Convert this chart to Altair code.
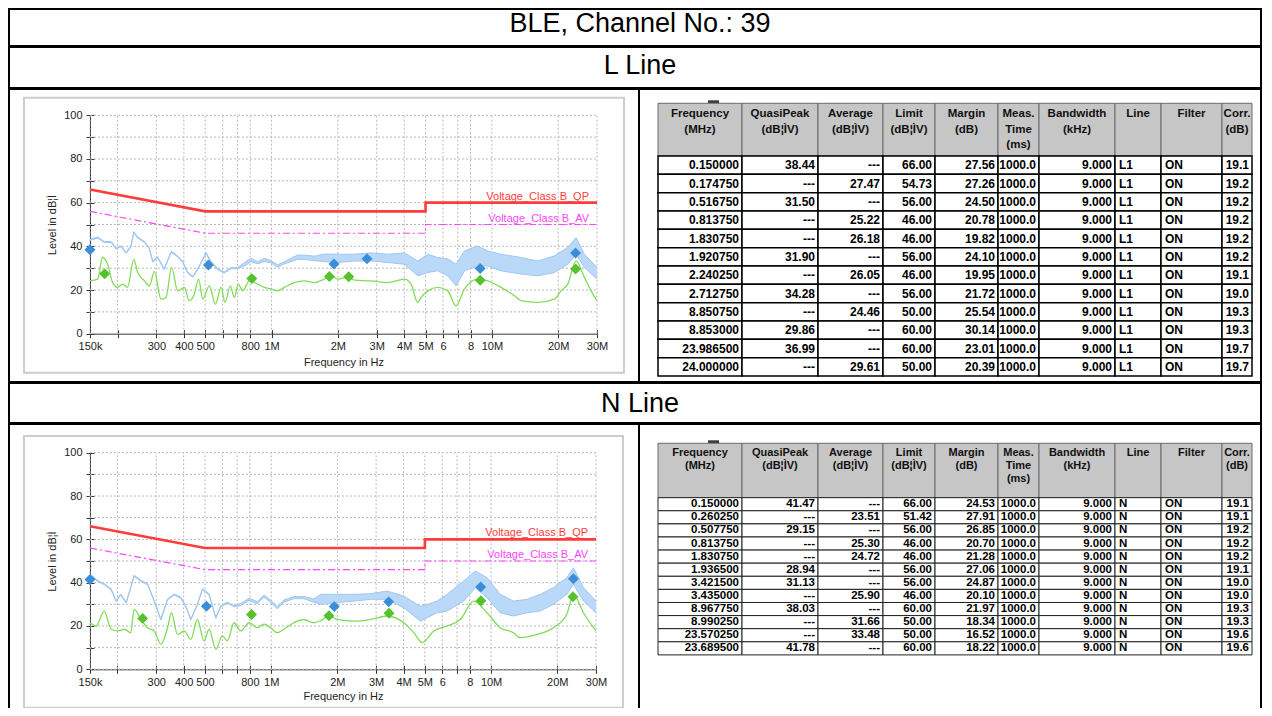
import json
import altair as alt
import pandas as pd

# ------------------------------------------------------------------ text
TITLE = "BLE, Channel No.: 39"
SECTIONS = ["L Line", "N Line"]

# ------------------------------------------------------------------ axes
x_tick_values = [0.15, 0.2, 0.3, 0.4, 0.5, 0.6, 0.7, 0.8, 1, 2, 3, 4, 5, 6, 7, 8, 10, 20, 30]
x_tick_labels = ["150k", "", "300", "400", "500", "", "", "800", "1M", "2M", "3M", "4M",
                 "5M", "6", "", "8", "10M", "20M", "30M"]
y_tick_values = [0, 10, 20, 30, 40, 50, 60, 70, 80, 90, 100]
y_tick_labels = ["0", "", "20", "", "40", "", "60", "", "80", "", "100"]
x_title = "Frequency in Hz"
y_title = "Level in dB¦Ì"

# ------------------------------------------------------------------ limits
limit_freq = [0.15, 0.5, 5.0, 5.0, 30.0]
limit_qp = [66, 56, 56, 60, 60]
limit_av = [56, 46, 46, 50, 50]
limit_names = ["Voltage_Class B_QP", "Voltage_Class B_AV"]
limit_label_freq = [27.6, 27.6]
limit_label_level = [60, 50]

# ------------------------------------------------------------------ L line traces (MHz, dB)
L_qp_freq = [0.150, 0.1625, 0.174, 0.187, 0.197, 0.207, 0.219, 0.230, 0.237, 0.247, 0.265, 0.279,
             0.289, 0.304, 0.326, 0.350, 0.369, 0.395, 0.416, 0.439, 0.462, 0.504, 0.531, 0.570,
             0.610, 0.654, 0.700, 0.753, 0.807, 0.865, 0.928, 0.994, 1.066, 1.143, 1.225, 1.314,
             1.410, 1.560, 1.740, 2.0, 2.38, 2.83, 3.37, 4.01, 4.61, 5.12, 5.68, 6.31, 6.88, 7.51,
             8.63, 9.58, 11.0, 13.57, 16.15, 19.2, 22.1, 24.1, 26.3, 30.0]
L_qp_lo = [42.75, 43.75, 41.75, 41.75, 38.75, 39.75, 36.75, 39.75, 46.25, 43.75, 41.75, 38.75,
           32.75, 34.75, 29.25, 37.25, 35.75, 32.75, 27.75, 25.75, 29.25, 36.75, 32.75, 29.25,
           27.75, 29.75, 29.75, 31.0, 33.0, 32.0, 33.0, 32.5, 30.5, 32.0, 33.0, 34.0,
           34.0, 33.5, 33.0, 32.6, 33.3, 33.3, 32.6, 31.8, 26.5, 28.0, 28.8, 26.5, 21.9, 28.8,
           31.0, 31.0, 28.8, 27.3, 26.5, 28.0, 31.8, 36.4, 30.3, 25.0]
L_qp_hi = [43.25, 44.25, 42.25, 42.25, 39.25, 40.25, 37.25, 40.25, 46.75, 44.25, 42.25, 39.25,
           33.25, 35.25, 29.75, 37.75, 36.25, 33.25, 28.25, 26.25, 29.75, 37.25, 33.25, 29.75,
           28.25, 30.25, 30.25, 32.5, 34.5, 33.0, 34.5, 33.5, 31.5, 33.0, 34.5, 36.0,
           36.0, 35.5, 36.5, 36.4, 36.4, 37.0, 36.4, 37.0, 33.3, 36.4, 34.9, 34.2, 31.8, 37.9,
           40.2, 37.9, 36.4, 34.9, 33.3, 35.6, 39.5, 44.0, 36.4, 30.3]
L_av_freq = [0.150, 0.1625, 0.171, 0.180, 0.190, 0.200, 0.211, 0.222, 0.237, 0.247, 0.265, 0.279,
             0.294, 0.315, 0.332, 0.352, 0.375, 0.402, 0.423, 0.446, 0.467, 0.487, 0.522, 0.556,
             0.590, 0.615, 0.650, 0.678, 0.707, 0.739, 0.793, 0.865, 0.927, 0.994, 1.066, 1.143,
             1.269, 1.408, 1.563, 1.736, 1.861, 2.0, 2.22, 2.38, 2.83, 3.37, 4.01, 4.30, 4.61,
             4.77, 5.12, 5.68, 6.31, 6.88, 7.51, 8.63, 9.58, 11.0, 12.66, 13.57, 16.15, 19.2,
             20.6, 22.1, 24.1, 26.3, 28.2, 30.0]
L_av_level = [24.2, 25.0, 35.0, 32.0, 23.4, 21.2, 22.7, 21.2, 34.0, 28.0, 24.2, 21.9,
              28.5, 15.8, 16.6, 30.3, 19.6, 21.2, 15.1, 18.1, 25.0, 15.8, 21.9, 13.5,
              21.2, 14.3, 21.9, 16.6, 22.7, 19.6, 24.2, 22.7, 21.2, 20.5, 19.6, 21.2,
              23.4, 24.2, 23.4, 25.0, 26.5, 25.0, 25.8, 24.5, 24.2, 23.4, 25.0, 22.7, 14.3,
              16.6, 19.6, 21.2, 19.6, 12.7, 20.5, 25.0, 24.2, 21.2, 17.4, 15.1, 14.3, 15.8,
              19.6, 22.7, 33.3, 25.8, 19.6, 15.1]

# ------------------------------------------------------------------ N line traces (MHz, dB)
N_qp_freq = [0.150, 0.1625, 0.174, 0.187, 0.197, 0.207, 0.219, 0.230, 0.238, 0.256, 0.274, 0.294,
             0.315, 0.338, 0.362, 0.388, 0.409, 0.431, 0.462, 0.487, 0.522, 0.560, 0.590, 0.632,
             0.678, 0.727, 0.793, 0.865, 0.927, 0.994, 1.066, 1.143, 1.269, 1.408, 1.563, 1.68,
             2.0, 2.38, 2.83, 3.37, 4.01, 4.77, 5.12, 5.68, 6.31, 7.51, 8.48, 9.58, 11.0, 12.66,
             14.55, 16.73, 19.2, 22.1, 23.7, 26.3, 30.0]
N_qp_lo = [43.55, 40.55, 39.05, 36.75, 31.25, 34.25, 30.55, 37.55, 42.95, 40.55, 39.05, 31.25,
           22.75, 32.05, 34.25, 32.85, 28.85, 22.75, 29.65, 36.75, 34.25, 23.55, 28.85, 30.55,
           28.85, 29.4, 31.8, 30.3, 33.3, 31.0, 27.9, 31.0, 32.6, 32.6, 31.0, 30.0,
           30.8, 31.5, 32.3, 32.3, 28.4, 22.2, 23.8, 26.1, 26.9, 31.5, 37.7, 33.1, 26.1, 24.6,
           26.1, 26.9, 30.0, 34.6, 39.2, 31.5, 26.1]
N_qp_hi = [44.05, 41.05, 39.55, 37.25, 31.75, 34.75, 31.05, 38.05, 43.45, 41.05, 39.55, 31.75,
           23.25, 32.55, 34.75, 33.35, 29.35, 23.25, 30.15, 37.25, 34.75, 24.05, 29.35, 31.05,
           29.35, 30.4, 32.8, 31.3, 34.3, 32.0, 28.9, 32.0, 33.6, 33.6, 32.5, 34.6,
           34.6, 34.6, 34.9, 36.1, 33.8, 29.1, 29.9, 31.5, 34.6, 40.8, 45.4, 42.3, 34.6, 31.5,
           32.3, 34.6, 37.7, 42.3, 46.9, 37.7, 31.5]
N_av_freq = [0.150, 0.160, 0.174, 0.187, 0.200, 0.215, 0.230, 0.238, 0.256, 0.274, 0.294, 0.315,
             0.338, 0.352, 0.375, 0.402, 0.431, 0.462, 0.495, 0.522, 0.560, 0.600, 0.632, 0.678,
             0.727, 0.793, 0.865, 0.927, 0.994, 1.066, 1.143, 1.269, 1.408, 1.563, 1.68, 1.83,
             2.0, 2.38, 2.83, 3.37, 4.01, 4.45, 4.86, 5.49, 6.31, 7.25, 8.33, 9.58, 11.0, 12.66,
             13.57, 16.15, 19.2, 22.1, 23.7, 26.3, 30.0]
N_av_level = [21.5, 20.0, 26.9, 18.5, 17.7, 18.5, 16.9, 27.7, 23.0, 19.2, 17.7, 11.6,
              19.2, 26.1, 16.1, 17.7, 13.8, 23.0, 13.1, 18.5, 9.2, 15.4, 13.1, 21.5,
              17.7, 21.5, 19.2, 20.8, 19.2, 16.9, 18.5, 21.5, 23.0, 21.5, 22.5, 24.6,
              23.0, 22.2, 23.0, 24.6, 21.5, 16.9, 12.3, 17.7, 20.0, 23.0, 31.5, 26.1, 19.2, 16.9,
              14.6, 16.1, 19.2, 25.4, 34.6, 26.1, 17.7]

# ------------------------------------------------------------------ tables
headers = ["Frequency\n(MHz)", "QuasiPeak\n(dB¦ÌV)", "Average\n(dB¦ÌV)", "Limit\n(dB¦ÌV)",
           "Margin\n(dB)", "Meas.\nTime\n(ms)", "Bandwidth\n(kHz)", "Line", "Filter", "Corr.\n(dB)"]

L_freq = ["0.150000", "0.174750", "0.516750", "0.813750", "1.830750", "1.920750",
          "2.240250", "2.712750", "8.850750", "8.853000", "23.986500", "24.000000"]
L_qp = ["38.44", "---", "31.50", "---", "---", "31.90", "---", "34.28", "---", "29.86", "36.99", "---"]
L_av = ["---", "27.47", "---", "25.22", "26.18", "---", "26.05", "---", "24.46", "---", "---", "29.61"]
L_limit = ["66.00", "54.73", "56.00", "46.00", "46.00", "56.00", "46.00", "56.00", "50.00", "60.00", "60.00", "50.00"]
L_margin = ["27.56", "27.26", "24.50", "20.78", "19.82", "24.10", "19.95", "21.72", "25.54", "30.14", "23.01", "20.39"]
L_time = ["1000.0", "1000.0", "1000.0", "1000.0", "1000.0", "1000.0",
          "1000.0", "1000.0", "1000.0", "1000.0", "1000.0", "1000.0"]
L_bw = ["9.000", "9.000", "9.000", "9.000", "9.000", "9.000",
        "9.000", "9.000", "9.000", "9.000", "9.000", "9.000"]
L_line = ["L1", "L1", "L1", "L1", "L1", "L1", "L1", "L1", "L1", "L1", "L1", "L1"]
L_filter = ["ON", "ON", "ON", "ON", "ON", "ON", "ON", "ON", "ON", "ON", "ON", "ON"]
L_corr = ["19.1", "19.2", "19.2", "19.2", "19.2", "19.2", "19.1", "19.0", "19.3", "19.3", "19.7", "19.7"]

N_freq = ["0.150000", "0.260250", "0.507750", "0.813750", "1.830750", "1.936500",
          "3.421500", "3.435000", "8.967750", "8.990250", "23.570250", "23.689500"]
N_qp = ["41.47", "---", "29.15", "---", "---", "28.94", "31.13", "---", "38.03", "---", "---", "41.78"]
N_av = ["---", "23.51", "---", "25.30", "24.72", "---", "---", "25.90", "---", "31.66", "33.48", "---"]
N_limit = ["66.00", "51.42", "56.00", "46.00", "46.00", "56.00", "56.00", "46.00", "60.00", "50.00", "50.00", "60.00"]
N_margin = ["24.53", "27.91", "26.85", "20.70", "21.28", "27.06", "24.87", "20.10", "21.97", "18.34", "16.52", "18.22"]
N_time = ["1000.0", "1000.0", "1000.0", "1000.0", "1000.0", "1000.0",
          "1000.0", "1000.0", "1000.0", "1000.0", "1000.0", "1000.0"]
N_bw = ["9.000", "9.000", "9.000", "9.000", "9.000", "9.000",
        "9.000", "9.000", "9.000", "9.000", "9.000", "9.000"]
N_line = ["N", "N", "N", "N", "N", "N", "N", "N", "N", "N", "N", "N"]
N_filter = ["ON", "ON", "ON", "ON", "ON", "ON", "ON", "ON", "ON", "ON", "ON", "ON"]
N_corr = ["19.1", "19.1", "19.2", "19.2", "19.2", "19.1", "19.0", "19.0", "19.3", "19.3", "19.6", "19.6"]

# ------------------------------------------------------------------ layout / style
FONT = "Liberation Sans"
RED = "#ff3c3c"
MAGENTA = "#ff45ff"
BLUE_BAND = "#bad8f7"
BLUE_LINE = "#9fc7f1"
BLUE_PT = "#3a8ed8"
GREEN_LINE = "#80dd57"
GREEN_PT = "#55c22d"
GRID = "#b8b8b8"
AXIS_C = "#333333"

COL_EDGES = [0, 84, 160, 225, 277, 340, 381, 457, 503, 564, 594]
COL_ALIGN = ["right", "right", "right", "right", "right", "right", "right", "left", "left", "right"]
TABLE_X0 = 19

FULL_W = 1252
CHART_W = 630
TABLE_W = FULL_W - CHART_W

x_label_expr = f"{json.dumps(x_tick_labels)}[indexof({json.dumps(x_tick_values)}, datum.value)]"
y_label_expr = f"{json.dumps(y_tick_labels)}[indexof({json.dumps(y_tick_values)}, datum.value)]"


def spectrum_panel(qp_f, qp_lo, qp_hi, av_f, av_v, t_freq, t_qp, t_av, H, xr, yr, frame, xtp):
    xs = alt.Scale(type="log", domain=[0.15, 30], range=xr, nice=False)
    ys = alt.Scale(type="linear", domain=[0, 100], range=yr, nice=False, zero=False)
    x_axis = alt.Axis(values=x_tick_values, labelExpr=x_label_expr, offset=-(H - yr[0]),
                      grid=False, domainColor=AXIS_C, tickColor=AXIS_C, tickSize=4,
                      labelFontSize=11, labelColor="#222", labelPadding=3,
                      labelOverlap=False, labelFlush=False, title=x_title,
                      titleFontSize=11, titleFontWeight="normal", titleColor="#222",
                      titlePadding=xtp)
    y_axis = alt.Axis(values=y_tick_values, labelExpr=y_label_expr, offset=-xr[0],
                      grid=False, domainColor=AXIS_C, tickColor=AXIS_C, tickSize=4,
                      labelFontSize=11, labelColor="#222", labelPadding=4,
                      labelOverlap=False, labelFlush=False, title=y_title,
                      titleFontSize=11, titleFontWeight="normal", titleColor="#222",
                      titlePadding=6)

    def X(f):
        return alt.X(f, type="quantitative", scale=xs, axis=x_axis)

    def Y(f):
        return alt.Y(f, type="quantitative", scale=ys, axis=y_axis)

    one = pd.DataFrame({"k": [0]})
    frame_rect = alt.Chart(one).mark_rect(fill="white", fillOpacity=0, stroke="#cdcdcd",
                                          strokeWidth=2).encode(
        x=alt.value(frame[0]), x2=alt.value(frame[1]), y=alt.value(frame[2]), y2=alt.value(frame[3]))

    vgrid = alt.Chart(pd.DataFrame({"f": x_tick_values})).mark_rule(
        color=GRID, strokeDash=[2, 2], strokeWidth=1).encode(
        x=X("f"), y=alt.YDatum(0, type="quantitative", scale=ys, axis=y_axis), y2=alt.Y2Datum(100))
    hgrid = alt.Chart(pd.DataFrame({"v": y_tick_values})).mark_rule(
        color=GRID, strokeDash=[2, 2], strokeWidth=1).encode(
        y=Y("v"), x=alt.XDatum(0.15, type="quantitative", scale=xs, axis=x_axis), x2=alt.X2Datum(30))

    qp_df = pd.DataFrame({"f": qp_f, "lo": qp_lo, "hi": qp_hi})
    band = alt.Chart(qp_df).mark_area(color=BLUE_BAND, opacity=1).encode(
        x=X("f"), y=Y("lo"), y2=alt.Y2("hi"))
    hi_line = alt.Chart(qp_df).mark_line(color=BLUE_LINE, strokeWidth=1).encode(x=X("f"), y=Y("hi"))
    lo_line = alt.Chart(qp_df).mark_line(color=BLUE_LINE, strokeWidth=1).encode(x=X("f"), y=Y("lo"))

    av_df = pd.DataFrame({"f": av_f, "v": av_v})
    green = alt.Chart(av_df).mark_line(color=GREEN_LINE, strokeWidth=1.3, interpolate="monotone").encode(
        x=X("f"), y=Y("v"))

    lim_df = pd.DataFrame({"f": limit_freq, "qp": limit_qp, "av": limit_av, "i": list(range(len(limit_freq)))})
    qp_lim = alt.Chart(lim_df).mark_line(color=RED, strokeWidth=2.6).encode(
        x=X("f"), y=Y("qp"), order="i:Q")
    av_lim = alt.Chart(lim_df).mark_line(color=MAGENTA, strokeWidth=1.2, strokeDash=[7, 3, 2, 3]).encode(
        x=X("f"), y=Y("av"), order="i:Q")

    lab_df = pd.DataFrame({"f": limit_label_freq, "v": limit_label_level, "name": limit_names})
    qp_lab = alt.Chart(lab_df.iloc[[0]]).mark_text(
        align="right", baseline="alphabetic", dy=-3, fontSize=11, color=RED).encode(
        x=X("f"), y=Y("v"), text="name:N")
    av_lab = alt.Chart(lab_df.iloc[[1]]).mark_text(
        align="right", baseline="alphabetic", dy=-3, fontSize=11, color=MAGENTA).encode(
        x=X("f"), y=Y("v"), text="name:N")

    qp_pts = pd.DataFrame({"f": [float(f) for f, q in zip(t_freq, t_qp) if q != "---"],
                           "v": [float(q) for q in t_qp if q != "---"]})
    av_pts = pd.DataFrame({"f": [float(f) for f, a in zip(t_freq, t_av) if a != "---"],
                           "v": [float(a) for a in t_av if a != "---"]})
    qp_mark = alt.Chart(qp_pts).mark_point(shape="diamond", filled=True, size=120, color=BLUE_PT,
                                           opacity=1).encode(x=X("f"), y=Y("v"))
    av_mark = alt.Chart(av_pts).mark_point(shape="diamond", filled=True, size=120, color=GREEN_PT,
                                           opacity=1).encode(x=X("f"), y=Y("v"))

    main = alt.layer(frame_rect, vgrid, hgrid, band, hi_line, lo_line, green, qp_lim, av_lim,
                     qp_lab, av_lab, av_mark, qp_mark)

    # inward half of the axis ticks (ticks cross the axis lines)
    inner = alt.Chart(pd.DataFrame({"f": [0.15], "v": [0]})).mark_point(opacity=0).encode(
        x=alt.X("f", type="quantitative", scale=xs,
                axis=alt.Axis(orient="top", offset=-yr[0], values=x_tick_values, labels=False,
                              domain=False, grid=False, tickSize=4, tickColor=AXIS_C, title=None)),
        y=alt.Y("v", type="quantitative", scale=ys,
                axis=alt.Axis(orient="right", offset=xr[0] - CHART_W, values=y_tick_values,
                              labels=False, domain=False, grid=False, tickSize=4,
                              tickColor=AXIS_C, title=None)))

    return alt.layer(main, inner).resolve_axis(x="independent", y="independent").properties(
        width=CHART_W, height=H)


def data_table(cols, H, hdr, yr, val_size, head_size, line_h, head_dy, row_stroke, row_sw):
    n = len(cols[0])
    xs = alt.Scale(domain=[0, COL_EDGES[-1]], range=[TABLE_X0, TABLE_X0 + COL_EDGES[-1]],
                   nice=False, zero=False)
    ys = alt.Scale(domain=[-hdr, n], range=yr, nice=False, zero=False)

    def X(f):
        return alt.X(f, type="quantitative", scale=xs, axis=None)

    def Y(f):
        return alt.Y(f, type="quantitative", scale=ys, axis=None)

    hdf = pd.DataFrame({"x0": COL_EDGES[:-1], "x1": COL_EDGES[1:], "h": headers})
    hdf["xc"] = (hdf["x0"] + hdf["x1"]) / 2
    recs = []
    for j, col in enumerate(cols):
        for i, txt in enumerate(col):
            recs.append({"x0": COL_EDGES[j], "x1": COL_EDGES[j + 1], "r0": i, "r1": i + 1,
                         "ym": i + 0.5, "txt": txt, "al": COL_ALIGN[j]})
    cdf = pd.DataFrame(recs)

    one = pd.DataFrame({"k": [0]})
    tab_mark = alt.Chart(one).mark_rect(fill="#3a3a3a").encode(
        x=alt.XDatum(50, type="quantitative", scale=xs, axis=None), x2=alt.X2Datum(61),
        y=alt.value(yr[0] - 3), y2=alt.value(yr[0]))
    hrect = alt.Chart(hdf).mark_rect(fill="#c6c6c6", stroke="#6a6a6a", strokeWidth=1).encode(
        x=X("x0"), x2=alt.X2("x1"),
        y=alt.YDatum(-hdr, type="quantitative", scale=ys, axis=None), y2=alt.Y2Datum(0))
    htext = alt.Chart(hdf).mark_text(baseline="top", lineBreak="\n", lineHeight=line_h,
                                     fontWeight="bold", fontSize=head_size, dy=head_dy,
                                     color="#111").encode(
        x=X("xc"), y=alt.YDatum(-hdr, type="quantitative", scale=ys, axis=None), text="h:N")
    crect = alt.Chart(cdf).mark_rect(fill="white", stroke=row_stroke, strokeWidth=row_sw).encode(
        x=X("x0"), x2=alt.X2("x1"), y=Y("r0"), y2=alt.Y2("r1"))
    rtext = alt.Chart(cdf).transform_filter("datum.al == 'right'").mark_text(
        align="right", baseline="middle", dx=-3, fontWeight="bold", fontSize=val_size,
        color="black").encode(x=X("x1"), y=Y("ym"), text="txt:N")
    ltext = alt.Chart(cdf).transform_filter("datum.al == 'left'").mark_text(
        align="left", baseline="middle", dx=4, fontWeight="bold", fontSize=val_size,
        color="black").encode(x=X("x0"), y=Y("ym"), text="txt:N")
    return alt.layer(tab_mark, hrect, htext, crect, rtext, ltext).properties(width=TABLE_W, height=H)


def text_row(txt, H, cx, cy, size):
    return alt.Chart(pd.DataFrame({"t": [txt]})).mark_text(
        fontSize=size, align="center", baseline="middle", color="black").encode(
        x=alt.value(cx), y=alt.value(cy), text="t:N").properties(width=FULL_W, height=H)


H_C = 293
H_E = 300

chart_L = spectrum_panel(L_qp_freq, L_qp_lo, L_qp_hi, L_av_freq, L_av_level, L_freq, L_qp, L_av,
                         H_C, [81, 588], [244.7, 26.3], [15, 615, 8.7, 283.7], 5)
table_L = data_table([L_freq, L_qp, L_av, L_limit, L_margin, L_time, L_bw, L_line, L_filter, L_corr],
                     H_C, 2.875, [14.3, 287.0], 12, 11.5, 15.5, 5, "black", 1.5)

chart_N = spectrum_panel(N_qp_freq, N_qp_lo, N_qp_hi, N_av_freq, N_av_level, N_freq, N_qp, N_av,
                         H_E, [81, 587], [245.3, 28.7], [15, 614, 12, 283.7], 3)
table_N = data_table([N_freq, N_qp, N_av, N_limit, N_margin, N_time, N_bw, N_line, N_filter, N_corr],
                     H_E, 4.15, [19.3, 230.9], 11.5, 11, 13, 4, "#222", 1)

chart = alt.vconcat(
    text_row(TITLE, 37, 631, 15, 27),
    text_row(SECTIONS[0], 41, 631, 18.5, 27),
    alt.hconcat(chart_L, table_L, spacing=0, bounds="flush"),
    text_row(SECTIONS[1], 40, 631, 21, 27),
    alt.hconcat(chart_N, table_N, spacing=0, bounds="flush"),
    spacing=-2,
).properties(
    padding={"left": 0, "top": 0, "right": 0, "bottom": -17}
).configure(
    font=FONT,
    view=alt.ViewConfig(stroke="black", strokeWidth=2),
)

chart.save("out.html", embed_options={"renderer": "svg", "actions": False})
